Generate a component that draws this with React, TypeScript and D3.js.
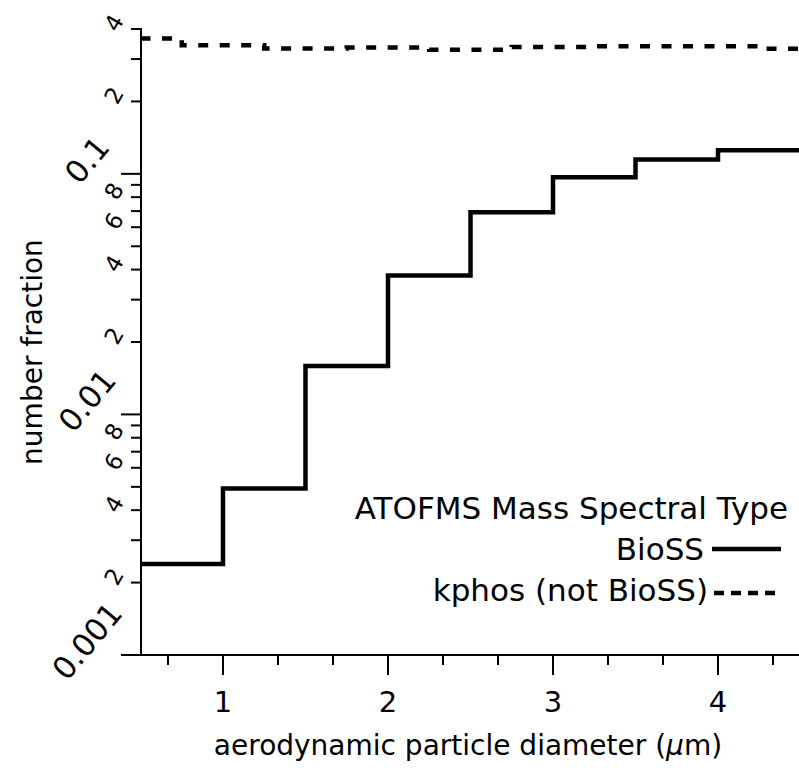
import React from "react";
import * as d3 from "d3";

// ---- data ----
const bioEdges = [0.5, 1, 1.5, 2, 2.5, 3, 3.5, 4, 4.5];
const bioValues = [0.00239, 0.00492, 0.0159, 0.0378, 0.0692, 0.0967, 0.1146, 0.1253];
const kphosEdges = [0.5, 0.75, 1.25, 1.75, 2.25, 2.75, 3.25, 3.75, 4.25, 4.5];
const kphosValues = [0.365, 0.342, 0.332, 0.335, 0.328, 0.337, 0.339, 0.339, 0.331];
const xTickValues = [2, 3, 4, 5, 6, 7, 8, 9, 10, 11, 12, 13].map((k) => k / 3);
const xLabels = [1, 2, 3, 4];
const yMajorLabels = [
  { v: 0.001, t: "0.001" },
  { v: 0.01, t: "0.01" },
  { v: 0.1, t: "0.1" },
];
const yMinorMultipliers = [2, 4, 6, 8];
const legendTitle = "ATOFMS Mass Spectral Type";
const seriesNames = ["BioSS", "kphos (not BioSS)"];
const xTitleParts = ["aerodynamic particle diameter (", "\u03BC", "m)"];
const yTitle = "number fraction";

const W = 799;
const H = 771;
const FONT = "'DejaVu Sans', sans-serif";

export default function App() {
  const x = d3.scaleLinear().domain([0.5, 4.5]).range([140.5, 800.5]);
  const y = d3.scaleLog().domain([0.001, 0.4]).range([655, 29]);
  const axisX = 141;

  const stepLine = d3
    .line<[number, number]>()
    .x((d) => x(d[0]))
    .y((d) => y(d[1]))
    .curve(d3.curveStepAfter);

  const mk = (edges: number[], vals: number[]) => {
    const pts: [number, number][] = vals.map((v, i) => [edges[i], v]);
    pts.push([edges[edges.length - 1], vals[vals.length - 1]]);
    return stepLine(pts) || "";
  };

  const yTicks: { v: number; major: boolean }[] = [];
  for (let e = -3; e <= -1; e++) {
    for (let m = 1; m <= 9; m++) {
      const v = m * Math.pow(10, e);
      if (v <= 0.4 + 1e-9) yTicks.push({ v, major: m === 1 });
    }
  }
  const yMinorLabels: { v: number; t: string }[] = [];
  for (let e = -3; e <= -1; e++) {
    yMinorMultipliers.forEach((m) => {
      const v = m * Math.pow(10, e);
      if (v <= 0.4 + 1e-9) yMinorLabels.push({ v, t: String(m) });
    });
  }

  return (
    <svg
      width={W}
      height={H}
      style={{ position: "absolute", left: 0, top: 0, background: "#fff" }}
      fontFamily={FONT}
    >
      <rect x={0} y={0} width={W} height={H} fill="#fff" />
      <line x1={axisX} x2={axisX} y1={28} y2={656} stroke="#000" strokeWidth={2} />
      <line x1={122} x2={W} y1={655} y2={655} stroke="#000" strokeWidth={2} />
      {yTicks.map((t, i) => (
        <line
          key={"yt" + i}
          x1={axisX}
          x2={axisX - (t.major ? 20 : 10)}
          y1={y(t.v)}
          y2={y(t.v)}
          stroke="#000"
          strokeWidth={2}
        />
      ))}
      {yMajorLabels.map((l, i) => (
        <text
          key={"ym" + i}
          transform={`translate(87,${y(l.v) - 14}) rotate(-50)`}
          textAnchor="middle"
          dominantBaseline="central"
          fontSize={31}
        >
          {l.t}
        </text>
      ))}
      {yMinorLabels.map((l, i) => (
        <text
          key={"yn" + i}
          transform={`translate(114,${y(l.v) - 6}) rotate(-60)`}
          textAnchor="middle"
          dominantBaseline="central"
          fontSize={23}
        >
          {l.t}
        </text>
      ))}
      {xTickValues.map((v, i) => {
        const major = Math.abs(v - Math.round(v)) < 1e-6;
        return (
          <line
            key={"xt" + i}
            x1={x(v)}
            x2={x(v)}
            y1={655}
            y2={655 + (major ? 20 : 10)}
            stroke="#000"
            strokeWidth={2}
          />
        );
      })}
      {xLabels.map((v) => (
        <text key={"xl" + v} x={x(v)} y={712} textAnchor="middle" fontSize={29}>
          {v}
        </text>
      ))}
      <text x={468} y={755} textAnchor="middle" fontSize={28}>
        <tspan>{xTitleParts[0]}</tspan>
        <tspan fontStyle="italic">{xTitleParts[1]}</tspan>
        <tspan>{xTitleParts[2]}</tspan>
      </text>
      <text
        transform={`translate(42,352) rotate(-90)`}
        textAnchor="middle"
        fontSize={28}
      >
        {yTitle}
      </text>
      <path d={mk(kphosEdges, kphosValues)} fill="none" stroke="#000" strokeWidth={4.5} strokeDasharray="10,11.5" />
      <path d={mk(bioEdges, bioValues)} fill="none" stroke="#000" strokeWidth={4.5} />
      <text x={788} y={519} textAnchor="end" fontSize={31}>
        {legendTitle}
      </text>
      <text x={704} y={560} textAnchor="end" fontSize={31}>
        {seriesNames[0]}
      </text>
      <line x1={712} x2={781} y1={549} y2={549} stroke="#000" strokeWidth={4.5} />
      <text x={708} y={601} textAnchor="end" fontSize={31}>
        {seriesNames[1]}
      </text>
      <line x1={714} x2={781} y1={593} y2={593} stroke="#000" strokeWidth={4.5} strokeDasharray="10,7" />
    </svg>
  );
}
